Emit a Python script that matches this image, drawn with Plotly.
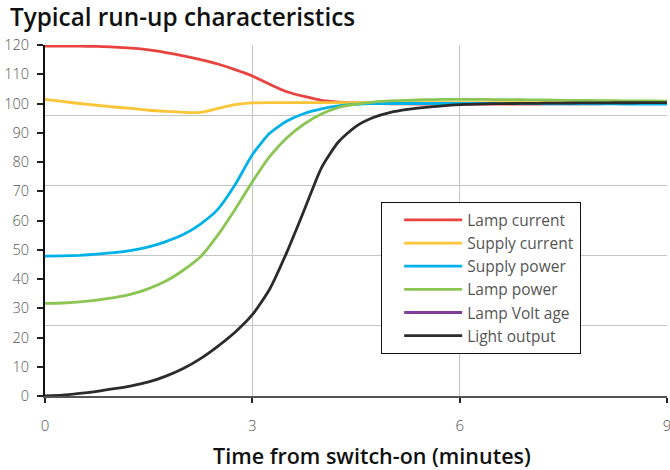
import plotly.graph_objects as go

time_min = [i * 0.25 for i in range(37)]  # 0 .. 9 minutes

lamp_current = [119.6, 119.6, 119.6, 119.5, 119.3, 118.9, 118.3, 117.4, 116.3, 115.0,
                113.5, 111.6, 109.4, 106.6, 104.0, 102.4, 101.1, 100.5, 100.2, 100.0,
                99.9, 99.85, 99.8, 99.8, 99.8, 99.8, 99.8, 99.8, 99.8, 99.85,
                99.85, 99.9, 99.9, 99.95, 99.95, 100.0, 100.0]
supply_current = [101.4, 100.7, 100.0, 99.4, 98.8, 98.3, 97.7, 97.3, 97.0, 96.95,
                  98.3, 99.6, 100.2, 100.3, 100.3, 100.3, 100.3, 100.3, 100.3, 100.3,
                  100.3, 100.3, 100.3, 100.3, 100.3, 100.3, 100.3, 100.3, 100.3, 100.3,
                  100.3, 100.3, 100.3, 100.3, 100.3, 100.3, 100.3]
supply_power = [47.8, 47.9, 48.1, 48.5, 49.0, 49.8, 51.0, 52.8, 55.2, 58.8,
                63.8, 72.2, 82.5, 89.8, 94.0, 96.6, 98.2, 99.2, 99.7, 99.95,
                100.0, 100.0, 100.0, 100.0, 100.0, 100.0, 100.0, 99.95, 99.95, 99.9,
                99.9, 99.9, 99.85, 99.85, 99.8, 99.8, 99.8]
lamp_power = [31.7, 31.8, 32.2, 32.8, 33.6, 34.8, 36.7, 39.3, 43.0, 47.6,
              55.0, 63.8, 73.2, 81.8, 88.3, 93.0, 96.4, 98.7, 99.8, 100.5,
              100.9, 101.1, 101.3, 101.4, 101.4, 101.4, 101.35, 101.3, 101.25, 101.2,
              101.1, 101.05, 101.0, 100.95, 100.9, 100.85, 100.8]
light_output = [0.0, 0.3, 0.9, 1.6, 2.5, 3.5, 4.8, 6.8, 9.4, 12.8,
                17.0, 21.8, 27.8, 36.5, 49.2, 63.5, 78.0, 87.0, 92.2, 95.2,
                97.0, 98.0, 98.7, 99.2, 99.6, 99.8, 99.95, 100.0, 100.05, 100.1,
                100.15, 100.2, 100.2, 100.25, 100.25, 100.3, 100.3]
lamp_voltage = [None]  # appears in the legend only

x_ticks = [0, 3, 6, 9]
y_ticks = list(range(0, 121, 10))
grid_y = [24, 48, 72, 96, 120]
x_title = "Time from switch-on (minutes)"

series = [
    ("Lamp current", lamp_current, "#e8433f"),
    ("Supply current", supply_current, "#fcc437"),
    ("Supply power", supply_power, "#00b1e9"),
    ("Lamp power", lamp_power, "#8bc553"),
    ("Lamp Volt age", None, "#7d3f98"),
    ("Light output", light_output, "#2b2b2b"),
]

fig = go.Figure()
for name, vals, color in series:
    if vals is None:
        fig.add_trace(go.Scatter(x=[None], y=lamp_voltage, mode="lines", name=name,
                                 line=dict(color=color, width=3)))
    else:
        fig.add_trace(go.Scatter(x=time_min, y=vals, mode="lines", name=name,
                                 line=dict(color=color, width=2.8, shape="spline", smoothing=0.6)))

# dummy trace carrying the overlay grid axis
fig.add_trace(go.Scatter(x=[None], y=[None], yaxis="y2", showlegend=False, hoverinfo="skip"))

fig.update_layout(
    width=670, height=470,
    margin=dict(l=45, r=3, t=45, b=74),
    paper_bgcolor="white", plot_bgcolor="white",
    font=dict(family="Open Sans", color="#555"),
    title=dict(text="Typical run-up characteristics", x=0.0149, xanchor="left", y=0.962, yanchor="middle",
               font=dict(family="Open Sans", size=24.3, color="#111", weight=600)),
    xaxis=dict(range=[0, 9], tickvals=x_ticks, showgrid=True, gridcolor="#c4c4c4", gridwidth=1.3,
               automargin=False, ticklabeloverflow="allow", ticklabelstandoff=10,
               zeroline=False, showline=True, linecolor="#555", linewidth=2,
               ticks="outside", ticklen=5, tickcolor="#222", tickwidth=1.5,
               tickfont=dict(size=15, color="#555", weight=300)),
    yaxis=dict(range=[0, 120], tickvals=y_ticks, showgrid=False, zeroline=False,
               automargin=False, ticklabelstandoff=5,
               showline=True, linecolor="#111", linewidth=2,
               ticks="outside", ticklen=6, tickcolor="#222", tickwidth=1.5,
               tickfont=dict(size=14.5, color="#555", weight=300)),
    yaxis2=dict(range=[0, 120], overlaying="y", side="left", tickvals=grid_y,
                showticklabels=False, ticks="", showgrid=True, gridcolor="#c4c4c4", gridwidth=1.3,
                zeroline=False, showline=False, automargin=False),
    legend=dict(x=0.54, y=0.5527, xanchor="left", yanchor="top",
                bgcolor="white", bordercolor="#111", borderwidth=1.3,
                font=dict(size=15.5, color="#555"), itemwidth=58, indentation=17,
                tracegroupgap=0),
    showlegend=True,
    annotations=[dict(text=x_title, xref="paper", yref="paper", x=0.5257, y=0,
                      xanchor="center", yanchor="middle", yshift=-59, showarrow=False,
                      font=dict(family="Open Sans", size=21.5, color="#111", weight=600))],
)

# remove the default page margin so the 670x470 figure fills the window exactly
fig.write_html("out.html",
               config={"displayModeBar": False},
               post_script="document.body.style.margin='0';document.body.style.overflow='hidden';")
